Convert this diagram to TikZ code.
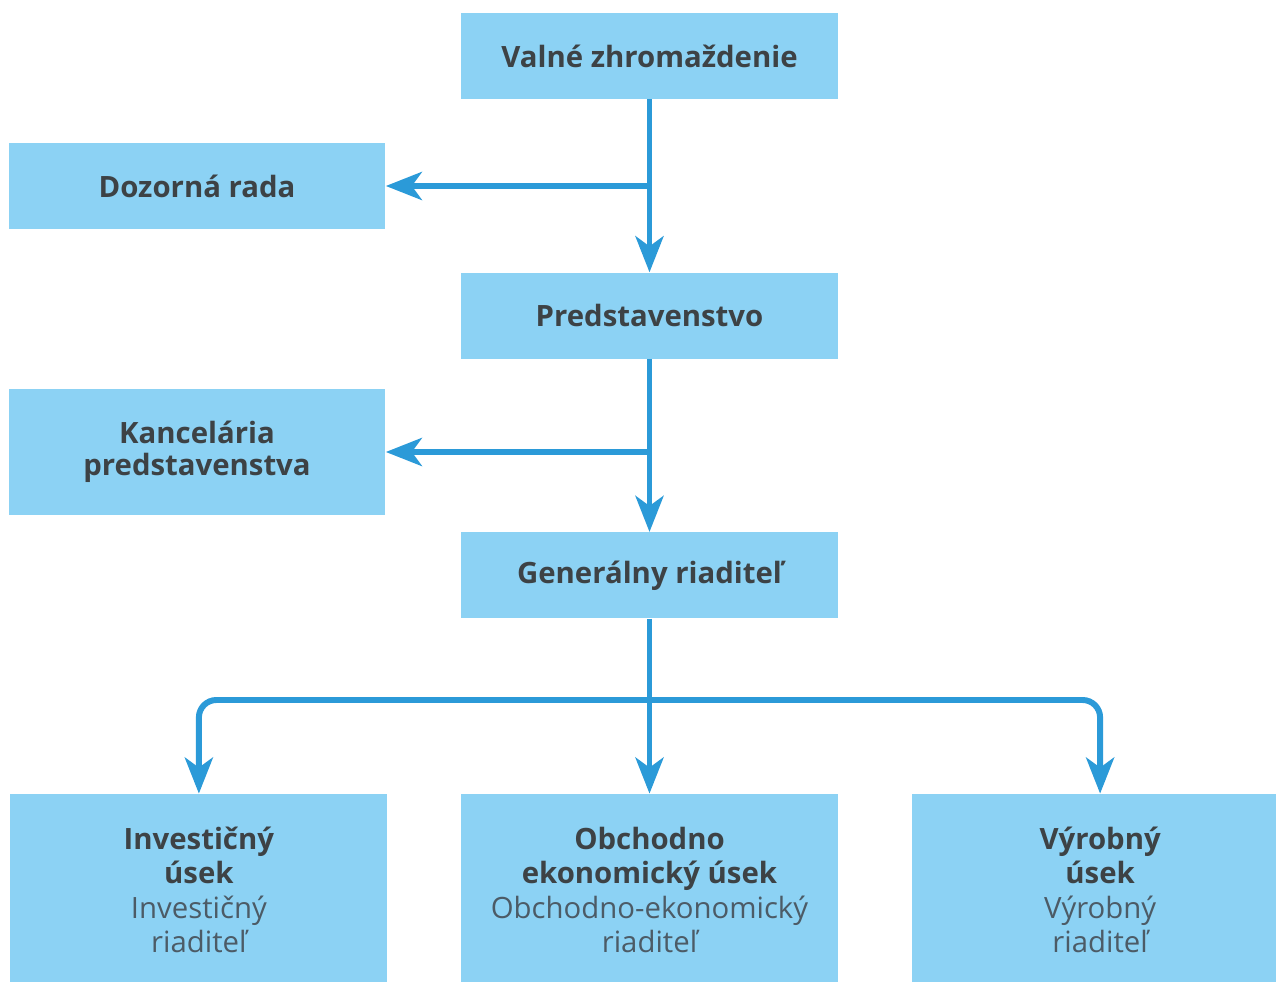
\documentclass[tikz,border=0pt]{standalone}
\usepackage{fontspec}
\setmainfont{Open Sans}
\usetikzlibrary{arrows.meta}
\usetikzlibrary{positioning}
\definecolor{boxblue}{HTML}{8CD2F4}
\definecolor{lineblue}{HTML}{2B9AD8}
\definecolor{ink}{HTML}{3D4245}
\definecolor{softink}{HTML}{4C5B66}
\newcommand{\usek}[4]{%
    \textbf{#1}\\
    \textbf{#2}\\
    {\color{softink}#3}\\
    {\color{softink}#4}%
}

\begin{document}
\begin{tikzpicture}[x=0.02cm, y=-0.02cm,
                    box/.style={fill=boxblue, text=ink, align=center,
                                font=\fontsize{16.7}{18.5}\selectfont\bfseries,
                                minimum width=7.54cm, minimum height=1.72cm,
                                inner sep=0pt},
                    tall/.style={box, minimum height=2.52cm},
                    unit/.style={box, minimum height=3.84cm,
                                 font=\fontsize{16.7}{19.5}\selectfont},
                    link/.style={draw=lineblue, line width=3.4pt},
                    arrow/.style={link, -{Stealth[length=0.72cm, width=0.56cm, inset=0.2cm]}}]

    \useasboundingbox (0,0) rectangle (1276,982);
    \clip (0,0) rectangle (1276,982);

    \node[box] (valne) at (649.5,56) {Valné zhromaždenie};
    \node[box, below=3.46cm of valne] (pred) {Predstavenstvo};
    \node[box, below=3.46cm of pred] (gen) {Generálny riaditeľ};
    \node[box] (dozor) at (197,186) {Dozorná rada};
    \node[tall] (kanc) at (197,452) {Kancelária\\predstavenstva};

    \node[unit, below=3.5cm of gen] (obch)
        {\usek{Obchodno}{ekonomický úsek}{Obchodno-ekonomický}{riaditeľ}};
    \node[unit, left=1.46cm of obch] (inv)
        {\usek{Investičný}{úsek}{Investičný}{riaditeľ}};
    \node[unit, right=1.46cm of obch] (vyr)
        {\usek{Výrobný}{úsek}{Výrobný}{riaditeľ}};

    \draw[arrow] (valne) -- (pred);
    \draw[arrow] (valne.south |- dozor) -- (dozor);
    \draw[arrow] (pred) -- (gen);
    \draw[arrow] (pred.south |- kanc) -- (kanc);
    \draw[arrow] (gen) -- (obch);
    \coordinate (split) at (649.5,700);
    \draw[arrow, rounded corners=0.35cm] (split) -| (inv);
    \draw[arrow, rounded corners=0.35cm] (split) -| (vyr);
\end{tikzpicture}
\end{document}
